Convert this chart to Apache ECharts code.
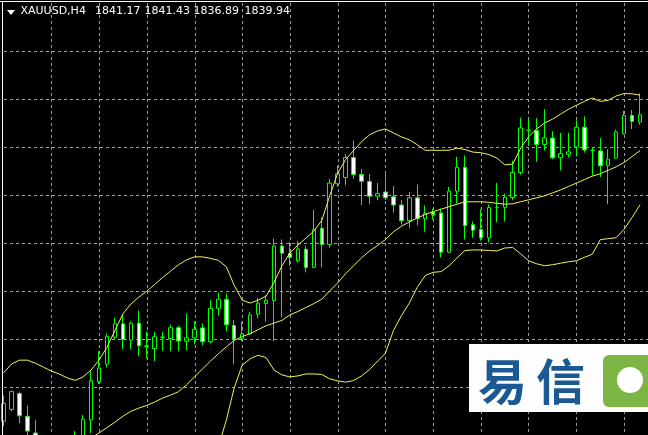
<!DOCTYPE html>
<html><head><meta charset="utf-8">
<script src="https://cdn.jsdelivr.net/npm/echarts/dist/echarts.min.js"></script>
<style>html,body{margin:0;padding:0;background:#000;overflow:hidden}#c{width:648px;height:435px}</style>
</head><body><div id="c"></div>
<script>
// XAUUSD H4 bars (index 0 = oldest visible bar)
const opens = [1777.88,1780.34,1783.62,1778.90,1775.42,1772.96,1770.29,1772.34,1770.91,1773.37,
1774.60,1778.14,1786.08,1789.77,1795.36,1798.17,1794.75,1798.31,1793.56,1793.00,
1795.36,1795.10,1797.35,1794.54,1795.24,1797.31,1794.42,1801.39,1803.25,1797.82,
1795.10,1796.06,1800.16,1802.41,1802.99,1814.37,1812.87,1811.29,1813.69,1809.92,
1818.06,1814.71,1827.34,1828.65,1832.82,1829.27,1827.83,1824.76,1825.64,1824.62,
1822.91,1819.65,1824.41,1820.06,1821.44,1821.27,1813.07,1825.80,1830.77,1818.81,
1817.79,1816.07,1822.42,1822.42,1824.47,1829.68,1838.49,1838.41,1835.54,1836.85,
1832.75,1833.49,1835.01,1839.11,1834.31,1834.19,1831.11,1832.67,1837.74,1841.57,
1840.20];
const closes = [1781.57,1784.03,1779.00,1775.83,1772.96,1770.29,1772.34,1770.91,1773.37,1774.60,
1778.29,1786.34,1788.95,1795.57,1798.17,1794.89,1798.31,1793.60,1793.46,1795.46,
1795.40,1797.35,1794.58,1795.24,1797.04,1794.44,1801.39,1803.30,1797.97,1794.99,
1796.06,1800.02,1802.48,1803.09,1814.37,1812.87,1811.97,1813.75,1809.92,1817.79,
1814.71,1827.49,1829.43,1832.82,1829.27,1827.85,1824.76,1825.25,1824.41,1822.91,
1819.65,1824.41,1820.11,1821.17,1820.86,1813.07,1825.80,1830.77,1818.61,1817.65,
1816.07,1822.38,1822.42,1824.55,1829.68,1838.97,1838.49,1835.54,1836.92,1832.75,
1833.64,1833.98,1839.11,1834.39,1834.31,1831.11,1832.47,1838.15,1841.57,1840.34,
1841.73];
const lows = [1776.85,1779.93,1777.47,1774.60,1771.73,1769.27,1768.86,1769.68,1770.09,1772.34,
1773.98,1775.42,1785.67,1789.09,1794.89,1792.84,1792.84,1791.41,1790.89,1790.38,
1792.53,1792.43,1792.43,1792.64,1793.87,1793.66,1794.07,1799.87,1796.59,1789.77,
1794.54,1795.92,1799.34,1798.58,1794.54,1799.50,1810.27,1810.94,1808.89,1809.86,
1809.92,1814.02,1826.67,1827.01,1828.37,1822.91,1823.12,1823.94,1823.94,1821.34,
1818.81,1818.16,1818.67,1817.34,1819.90,1811.97,1812.99,1823.24,1815.74,1816.07,
1815.49,1815.12,1819.29,1819.49,1823.94,1829.23,1835.21,1831.89,1834.25,1832.47,
1830.09,1832.82,1833.02,1833.84,1829.06,1828.72,1823.08,1832.63,1837.63,1838.76,
1839.64];
const highs = [1783.21,1784.23,1784.03,1781.16,1778.08,1773.78,1773.37,1773.78,1774.39,1775.83,
1779.17,1788.39,1792.49,1796.12,1799.40,1800.22,1798.64,1800.94,1796.53,1796.53,
1796.43,1797.97,1797.76,1800.32,1798.72,1798.27,1803.09,1804.67,1804.46,1798.99,
1798.64,1800.69,1803.54,1804.12,1815.94,1815.74,1815.14,1815.39,1814.43,1821.89,
1820.31,1828.37,1831.11,1833.49,1836.36,1830.42,1829.39,1827.49,1829.47,1826.83,
1823.94,1825.64,1827.18,1822.81,1822.16,1822.16,1826.67,1832.96,1833.23,1819.49,
1822.01,1823.02,1827.49,1825.29,1832.14,1841.12,1840.91,1841.02,1842.86,1838.29,
1837.94,1837.94,1840.56,1841.36,1834.97,1836.85,1834.52,1838.62,1842.55,1842.72,
1846.14];
// Bollinger bands
const upperBand = [1787.92,1789.77,1790.59,1790.59,1789.97,1789.15,1788.33,1787.72,1786.90,1786.38,
1787.10,1788.54,1790.59,1793.25,1796.74,1800.22,1802.27,1803.71,1804.94,1806.37,
1807.81,1809.14,1810.47,1811.50,1812.11,1812.11,1811.80,1811.39,1810.06,1806.17,
1803.09,1802.48,1803.09,1803.91,1806.78,1810.27,1812.93,1814.57,1816.01,1817.44,
1819.70,1824.82,1829.54,1832.41,1834.25,1836.10,1837.53,1838.35,1838.76,1837.94,
1837.12,1836.51,1835.48,1834.31,1834.31,1834.31,1834.31,1834.76,1834.46,1833.94,
1833.80,1833.43,1832.71,1831.28,1831.44,1834.76,1837.12,1838.76,1839.99,1840.81,
1841.84,1842.86,1843.68,1844.50,1845.22,1844.50,1844.71,1845.63,1846.14,1846.08,
1845.83];
const middleBand = [1769.27,1768.86,1768.65,1768.65,1768.86,1769.27,1769.88,1770.70,1771.52,1772.34,
1773.37,1774.39,1775.42,1776.54,1777.67,1778.90,1779.93,1780.60,1781.16,1781.87,
1782.69,1783.31,1784.03,1785.46,1787.10,1788.74,1790.38,1791.92,1793.35,1794.69,
1795.51,1796.12,1796.94,1797.76,1798.31,1798.89,1800.02,1800.73,1801.55,1802.37,
1803.30,1805.04,1806.68,1808.63,1810.27,1811.91,1813.34,1814.47,1815.70,1817.34,
1818.47,1819.39,1820.21,1820.93,1821.54,1822.05,1822.57,1823.08,1823.59,1823.59,
1823.59,1823.49,1823.28,1823.08,1823.18,1823.59,1824.00,1824.41,1824.82,1825.44,
1826.05,1826.77,1827.49,1828.20,1828.92,1829.43,1830.15,1830.87,1831.79,1833.02,
1834.25];
const lowerBand = [1750.82,1748.36,1747.13,1746.72,1747.74,1749.38,1751.43,1753.69,1756.15,1758.40,
1759.63,1760.25,1760.25,1759.84,1758.61,1757.58,1757.58,1757.58,1757.38,1757.38,
1757.58,1757.38,1757.58,1759.43,1762.09,1765.37,1769.06,1772.55,1778.08,1784.85,
1789.56,1790.89,1791.61,1791.14,1788.54,1787.51,1787.10,1787.31,1787.72,1787.72,
1787.61,1786.69,1786.28,1786.01,1786.34,1787.31,1788.64,1790.38,1792.02,1796.74,
1799.81,1802.48,1805.76,1808.22,1808.89,1809.04,1810.27,1811.91,1813.44,1813.55,
1813.55,1813.44,1813.34,1813.96,1814.06,1812.73,1811.29,1810.68,1810.27,1810.47,
1810.78,1811.09,1811.29,1812.01,1812.66,1815.70,1815.90,1816.11,1817.85,1820.31,
1822.98];
const headerSymbol = 'XAUUSD,H4';
const headerValues = ['1841.17','1841.43','1836.89','1839.94'];
const logoText = ['易','信'];

const candles = opens.map((o, i) => [i, o, closes[i], lows[i], highs[i]]);
const band = arr => arr.map((v, i) => [i, v]);

const gridLine = {
  show: true, showMinLine: false, showMaxLine: false,
  lineStyle: { color: '#9c9c9c', width: 1, type: [3, 3] }
};
const hiddenParts = { axisLine: { show: false }, axisTick: { show: false }, axisLabel: { show: false } };
const bandLine = { color: '#f2f25a', width: 1 };

const headerX = [95, 144.5, 193.5, 244.5];
const graphic = [
  { type: 'line', shape: { x1: 0, y1: 1.5, x2: 648, y2: 1.5 }, style: { stroke: '#ffffff', lineWidth: 1 }, z: 50 },
  { type: 'line', shape: { x1: 2.5, y1: 1, x2: 2.5, y2: 435 }, style: { stroke: '#ffffff', lineWidth: 1 }, z: 50 },
  { type: 'polygon', shape: { points: [[7, 10], [15, 10], [11, 15]] }, style: { fill: '#ffffff' }, z: 50 },
  { type: 'text', x: 20.5, y: 17, style: { text: headerSymbol, fill: '#ffffff', font: '11px "DejaVu Sans"', textVerticalAlign: 'bottom' }, z: 50 }
].concat(headerValues.map((t, k) => ({
  type: 'text', x: headerX[k], y: 17,
  style: { text: t, fill: '#ffffff', font: '11px "DejaVu Sans"', textVerticalAlign: 'bottom' }, z: 50
}))).concat([
  { type: 'rect', shape: { x: 469, y: 344, width: 179, height: 68 }, style: { fill: '#fdfdfd' }, z: 60 },
  { type: 'text', x: 478, y: 381, style: { text: logoText[0], fill: '#1b5994', font: 'bold 49px "Noto Sans CJK SC"', textVerticalAlign: 'middle' }, z: 61 },
  { type: 'text', x: 536, y: 381, style: { text: logoText[1], fill: '#1b5994', font: 'bold 49px "Noto Sans CJK SC"', textVerticalAlign: 'middle' }, z: 61 },
  { type: 'rect', shape: { x: 603, y: 355, width: 52, height: 52, r: 6 }, style: { fill: '#7db545' }, z: 61 },
  { type: 'circle', shape: { cx: 630, cy: 380, r: 13 }, style: { fill: '#ffffff' }, z: 62 }
]);

const chart = echarts.init(document.getElementById('c'), null, { renderer: 'canvas' });
chart.setOption({
  backgroundColor: '#000000',
  animation: false,
  grid: [
    { left: 3.5, right: -3.5, top: 3, bottom: -7 },
    { left: 4, right: -4, top: 3, bottom: -7 }
  ],
  xAxis: [
    { type: 'value', gridIndex: 0, min: 0, max: 81, show: false },
    Object.assign({ type: 'value', gridIndex: 1, min: 0, max: 81, interval: 6, splitLine: gridLine }, hiddenParts)
  ],
  yAxis: [
    { type: 'value', gridIndex: 0, min: 1775, max: 1865, show: false, scale: true },
    Object.assign({ type: 'value', gridIndex: 1, min: 0, max: 9, interval: 1, splitLine: gridLine }, hiddenParts)
  ],
  series: [
    {
      type: 'candlestick', xAxisIndex: 0, yAxisIndex: 0, data: candles, barWidth: 4, clip: false, z: 3,
      itemStyle: { color: '#000000', color0: '#ffffff', borderColor: '#00ff00', borderColor0: '#00ff00', borderColorDoji: '#00ff00', borderWidth: 1 }
    },
    { type: 'line', xAxisIndex: 0, yAxisIndex: 0, data: band(upperBand), symbol: 'none', lineStyle: bandLine, clip: false, z: 4 },
    { type: 'line', xAxisIndex: 0, yAxisIndex: 0, data: band(middleBand), symbol: 'none', lineStyle: bandLine, clip: false, z: 4 },
    { type: 'line', xAxisIndex: 0, yAxisIndex: 0, data: band(lowerBand), symbol: 'none', lineStyle: bandLine, clip: false, z: 4 }
  ],
  graphic: graphic
});
</script>
</body></html>
